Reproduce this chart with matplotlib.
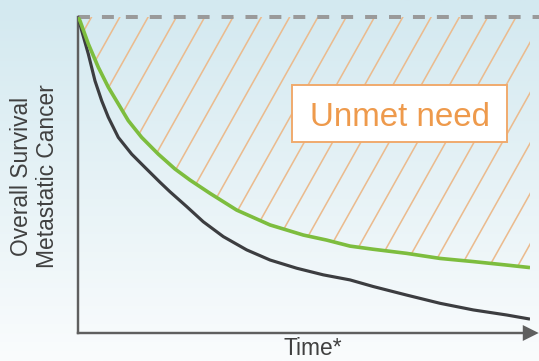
import numpy as np
import matplotlib
matplotlib.use("Agg")
import matplotlib.pyplot as plt
from matplotlib.colors import LinearSegmentedColormap
from matplotlib.patches import Rectangle, Polygon
from matplotlib.collections import LineCollection
from matplotlib.transforms import IdentityTransform

# Survival curves (time in arbitrary units, survival in %)
time_new = [0, 0.044, 0.228, 0.449, 0.670, 0.892, 1.113, 1.409, 1.777, 2.146, 2.478,
            2.920, 3.511, 4.248, 4.985, 5.502, 6.018, 6.533, 7.272, 8.009, 8.745,
            9.484, 10]
surv_new = [100, 98.8, 91.5, 84.1, 77.8, 72.5, 67.2, 61.9, 56.6, 51.9, 48.4,
            44.2, 38.9, 34.2, 31.0, 29.4, 27.5, 26.5, 25.2, 23.6, 22.6,
            21.5, 20.7]

time_std = [0, 0.082, 0.228, 0.376, 0.524, 0.670, 0.892, 1.188, 1.482, 1.814, 2.035,
            2.405, 2.772, 3.215, 3.732, 4.248, 4.839, 5.427, 6.018, 6.533, 7.272,
            8.009, 8.745, 9.484, 10]
surv_std = [100, 95.7, 88.3, 79.8, 73.5, 68.3, 61.9, 56.6, 52.4, 47.7, 44.7,
            40.0, 35.2, 30.5, 26.3, 23.1, 20.5, 18.4, 16.8, 14.7, 12.0,
            9.4, 7.3, 5.7, 4.4]

ideal_level = 100
ylabel_text = "Overall Survival\nMetastatic Cancer"
xlabel_text = "Time*"
box_text = "Unmet need"

DPI = 174
W, H = 539, 361
plt.rcParams["font.family"] = ["Liberation Sans", "DejaVu Sans"]

fig = plt.figure(figsize=(W / DPI, H / DPI), dpi=DPI)

# soft blue-to-white background
bg = fig.add_axes([0, 0, 1, 1], zorder=-5)
cmap = LinearSegmentedColormap.from_list("bg", ["#d3e9f0", "#e6f2f6", "#fafcfd"])
bg.imshow(np.linspace(0, 1, 256).reshape(-1, 1), aspect="auto", cmap=cmap,
          extent=[0, 1, 0, 1])
bg.axis("off")

left, right = 78 / W, 530 / W
bottom, top = (H - 333) / H, (H - 17) / H
ax = fig.add_axes([left, bottom, right - left, top - bottom])
ax.set_facecolor("none")
ax.set_xlim(0, 10)
ax.set_ylim(0, 100)

# unmet-need region: between the ideal level and the improved curve
region = Polygon(list(zip(time_new, surv_new)) + [(time_new[-1], ideal_level),
                                                    (time_new[0], ideal_level)],
                 closed=True, facecolor="none", edgecolor="none")
ax.add_patch(region)

# diagonal hatching (pixel space), clipped to the region
angle = np.deg2rad(60.7)
step = 28.3
phase = 238.1
offsets = phase + step * np.arange(-30, 30)
hatch_lines = [[(c, 0), (c + H / np.tan(angle), H)] for c in offsets]
hatch = LineCollection(hatch_lines, colors="#ebbb8e", linewidths=0.65,
                       transform=IdentityTransform(), zorder=1)
ax.add_collection(hatch, autolim=False)
hatch.set_clip_path(region)

# ideal survival reference
ax.axhline(ideal_level, xmin=0, xmax=(1 - left) / (right - left), color="#9a9a9a",
           lw=1.65, linestyle=(0, (3, 3)), clip_on=False, zorder=2)

ax.plot(time_std, surv_std, color="#3c3d40", lw=1.3, solid_capstyle="butt", zorder=3)
ax.plot(time_new, surv_new, color="#7dbd3e", lw=1.5, solid_capstyle="butt", zorder=4)

for s in ["top", "right"]:
    ax.spines[s].set_visible(False)
for s in ["left", "bottom"]:
    ax.spines[s].set_color("#5f5f5f")
    ax.spines[s].set_linewidth(1.0)
ax.set_xticks([])
ax.set_yticks([])
ax.plot(1.0, 0, marker=">", color="#5f5f5f", markersize=4.6,
        transform=ax.transAxes, clip_on=False)

# label box
ax.add_patch(Rectangle((0.4735, 0.604), 0.4757, 0.180, transform=ax.transAxes,
                       facecolor="white", edgecolor="#f0aa6c", lw=0.8, zorder=5))
ax.text(0.7124, 0.655, box_text, transform=ax.transAxes, ha="center", va="baseline",
        fontsize=13.7, color="#ee9a4c", zorder=6)

fig.text(34.5 / W, (H - 176) / H, ylabel_text, rotation=90, ha="center", va="center",
         multialignment="center", fontsize=9.4, color="#404040")
fig.text(283 / W, (H - 355) / H, xlabel_text, ha="left", va="baseline",
         fontsize=9.4, color="#404040")

fig.savefig("out.png", dpi=DPI)
